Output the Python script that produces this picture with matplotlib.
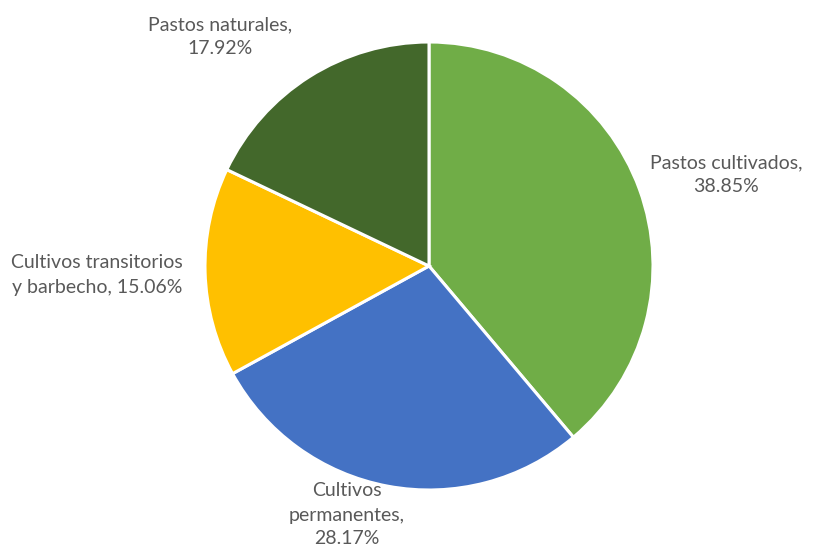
import matplotlib
matplotlib.use("Agg")
import matplotlib.pyplot as plt

# land use shares (%), clockwise from 12 o'clock
categorias = ["Pastos cultivados", "Cultivos permanentes",
              "Cultivos transitorios y barbecho", "Pastos naturales"]
porcentajes = [38.85, 28.17, 15.06, 17.92]
colores = ["#70AD47", "#4472C4", "#FFC000", "#43682B"]

etiquetas = [
    "Pastos cultivados,\n{:.2f}%".format(porcentajes[0]),
    "Cultivos\npermanentes,\n{:.2f}%".format(porcentajes[1]),
    "Cultivos transitorios\ny barbecho, {:.2f}%".format(porcentajes[2]),
    "Pastos naturales,\n{:.2f}%".format(porcentajes[3]),
]

W, H = 813, 549
fig = plt.figure(figsize=(W / 100, H / 100), dpi=100)
ax = fig.add_axes([0, 0, 1, 1])

cx, cy, r = 429, H - 266, 224
ax.pie(porcentajes, colors=colores, startangle=90, counterclock=False,
       center=(cx, cy), radius=r, frame=True,
       wedgeprops=dict(edgecolor="white", linewidth=2.2))
ax.set_xlim(0, W)
ax.set_ylim(0, H)
ax.set_aspect("equal")
ax.axis("off")

# label anchor points (pixels from top-left)
pos = [(726, 175), (347, 515), (97, 275), (220, 37)]
for txt, (px, py) in zip(etiquetas, pos):
    ax.text(px, H - py, txt, ha="center", va="center", fontsize=14,
            family="Lato", color="#595959", linespacing=1.5)

fig.savefig("out.png", dpi=100)
